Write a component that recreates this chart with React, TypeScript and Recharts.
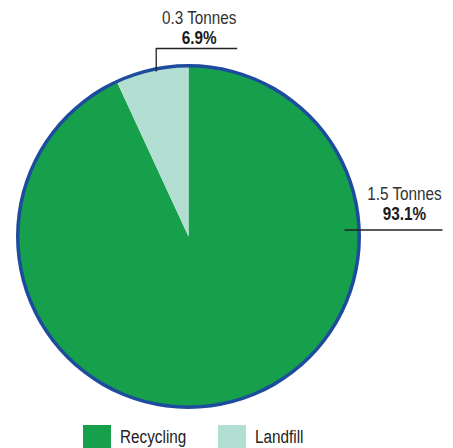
import React from "react";
import { PieChart, Pie, Cell, Legend } from "recharts";

const categories = ["Recycling", "Landfill"];
const percentValues = [93.1, 6.9];
const tonneLabels = ["1.5 Tonnes", "0.3 Tonnes"];
const percentLabels = ["93.1%", "6.9%"];
const colors = ["#17a04b", "#b3dfd3"];

const data = categories.map((name, i) => ({
  name,
  value: percentValues[i],
  tonnes: tonneLabels[i],
  pct: percentLabels[i],
}));

const FONT = "'Liberation Sans Narrow', 'Arial Narrow', 'Liberation Sans', Arial, sans-serif";
const RAD = Math.PI / 180;
const SX = 0.85;

const NarrowText = ({ x, y, bold, children }: any) => (
  <text
    transform={`translate(${x},${y}) scale(${SX},1)`}
    x={0}
    y={0}
    textAnchor="middle"
    fontFamily={FONT}
    fontSize={18}
    fontWeight={bold ? "bold" : "normal"}
    fill={bold ? "#1a1a1a" : "#333"}
  >
    {children}
  </text>
);

const renderLabel = (props: any) => {
  const { cx, cy, outerRadius, midAngle, index } = props;
  const d = data[index];
  if (index === 1) {
    const x = cx + outerRadius * Math.cos(-midAngle * RAD) + 4.5;
    const yEdge = cy + outerRadius * Math.sin(-midAngle * RAD);
    const yTop = cy - outerRadius - 17;
    return (
      <g>
        <polyline
          points={`${x},${yEdge + 2} ${x},${yTop} ${x + 81},${yTop}`}
          fill="none"
          stroke="#222"
          strokeWidth={1.3}
        />
        <NarrowText x={x + 43} y={yTop - 25}>{d.tonnes}</NarrowText>
        <NarrowText x={x + 43} y={yTop - 5} bold>{d.pct}</NarrowText>
      </g>
    );
  }
  const y = cy - 6.5;
  const x0 = cx + outerRadius - 15;
  return (
    <g>
      <line x1={x0} y1={y} x2={x0 + 98} y2={y} stroke="#222" strokeWidth={1.3} />
      <NarrowText x={x0 + 60} y={y - 30}>{d.tonnes}</NarrowText>
      <NarrowText x={x0 + 60} y={y - 10} bold>{d.pct}</NarrowText>
    </g>
  );
};

const legendX = [0, 135];

const renderLegend = () => (
  <div style={{ position: "relative", width: 300, height: 30, fontFamily: FONT, fontSize: 18, color: "#222" }}>
    {data.map((d, i) => (
      <React.Fragment key={d.name}>
        <div style={{ position: "absolute", left: legendX[i], top: 0, width: 28, height: 24, background: colors[i] }} />
        <div
          style={{
            position: "absolute",
            left: legendX[i] + 37,
            top: 2,
            lineHeight: "20px",
            whiteSpace: "nowrap",
            transform: `scale(${SX},1)`,
            transformOrigin: "left center",
          }}
        >
          {d.name}
        </div>
      </React.Fragment>
    ))}
  </div>
);

export default function App() {
  return (
    <div style={{ position: "absolute", left: 0, top: 0, width: 453, height: 448, overflow: "hidden", background: "#fff" }}>
      <PieChart width={453} height={448} margin={{ top: 0, right: 0, bottom: 0, left: 0 }}>
        <Pie
          data={data}
          dataKey="value"
          cx={188.5}
          cy={236.5}
          outerRadius={171}
          startAngle={90}
          endAngle={-270}
          stroke="none"
          label={renderLabel}
          labelLine={false}
          isAnimationActive={false}
        >
          {data.map((d, i) => (
            <Cell key={d.name} fill={colors[i]} />
          ))}
        </Pie>
        <Pie
          data={[{ name: "outline", value: 1 }]}
          dataKey="value"
          cx={188.5}
          cy={236.5}
          innerRadius={169}
          outerRadius={172.5}
          startAngle={90}
          endAngle={-270}
          fill="#1d4c9e"
          stroke="none"
          legendType="none"
          isAnimationActive={false}
        />
        <Legend
          content={renderLegend}
          wrapperStyle={{ position: "absolute", left: 83, top: 425, width: 300 }}
        />
      </PieChart>
    </div>
  );
}
